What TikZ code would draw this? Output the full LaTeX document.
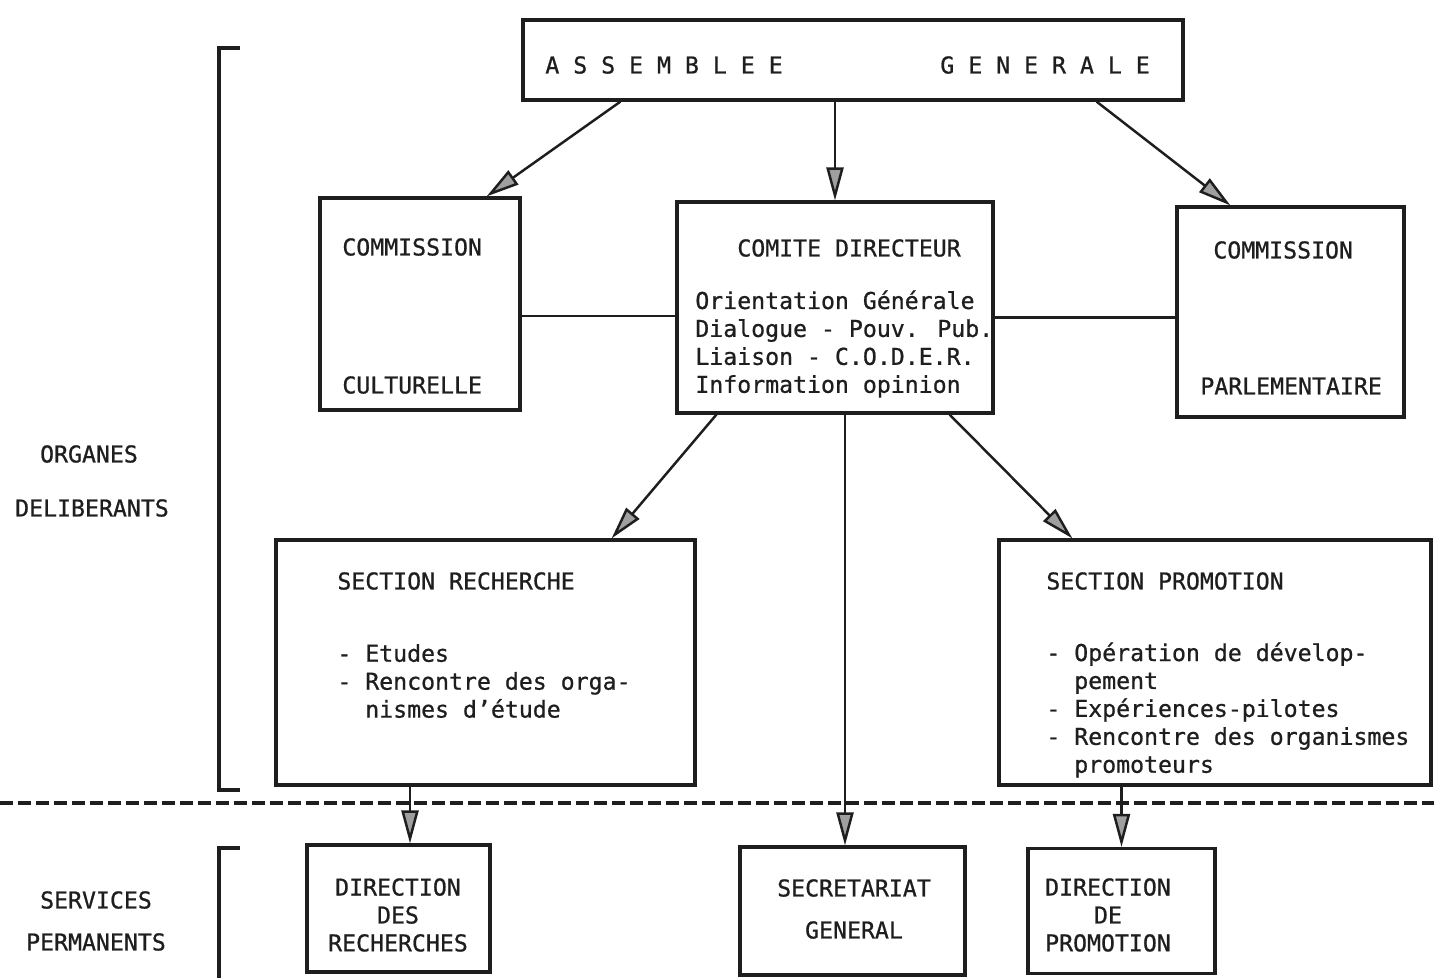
\documentclass[tikz,border=0pt]{standalone}
\usepackage{fontspec}
\setmainfont{DejaVu Sans Mono}[FakeBold=0.8]
\usepackage{tikz}
\usetikzlibrary{positioning}
\usetikzlibrary{arrows.meta}

\definecolor{ink}{HTML}{1E1E1E}
\tikzset{
	box/.style={draw=ink, line width=1.8pt, inner sep=0pt},
	lbl/.style={inner sep=0pt, text=ink, font=\fontsize{13.2}{15.9}\selectfont},
	arr/.style={draw=ink, line width=1.4pt, -{Triangle[length=0.66cm,width=0.34cm,fill=gray!75]}},
	link/.style={draw=ink, line width=1.4pt},
	brace/.style={draw=ink, line width=1.8pt},
}

\begin{document}
\begin{tikzpicture}[x=0.02cm, y=-0.02cm]
	\useasboundingbox (0,0) rectangle (1434,978);

	% boxes
	\node [box, minimum width=13.2cm, minimum height=1.6cm] (ag) at (853,60) {};
	\node [box, minimum width=4cm, minimum height=4.24cm] (cc) at (420,304) {};
	\node [box, minimum width=6.32cm, minimum height=4.22cm] (cd) at (835,307.5) {};
	\node [box, minimum width=4.54cm, minimum height=4.2cm] (cp) at (1290.5,312) {};
	\node [box, minimum width=8.38cm, minimum height=4.9cm] (sr) at (485.5,662.5) {};
	\node [box, minimum width=8.64cm, minimum height=4.9cm] (sp) at (1215,662.5) {};
	\node [box, minimum width=3.66cm, minimum height=2.54cm] (dr) at (398.5,908.5) {};
	\node [box, minimum width=4.5cm, minimum height=2.56cm] (sg) at (852.5,911) {};
	\node [box, minimum width=3.74cm, minimum height=2.5cm] (dp) at (1121.5,911) {};

	% texts
	\node [lbl, anchor=west] (agl) at (545,65) {A S S E M B L E E};
	\node [lbl, anchor=west] (agr) at (940,65) {G E N E R A L E};
	\node [lbl, anchor=west] (cctop) at (342,247) {COMMISSION};
	\node [lbl, anchor=west] (ccbot) at (342,385) {CULTURELLE};
	\node [lbl, anchor=west] (cdtop) at (737,248) {COMITE DIRECTEUR};
	\node [lbl, anchor=west, align=left] (cdlist) at (695,344)
		{Orientation Générale\\Dialogue - Pouv. Pub.\\Liaison - C.O.D.E.R.\\Information opinion};
	\node [lbl, anchor=west] (cptop) at (1213,250) {COMMISSION};
	\node [lbl, anchor=west] (cpbot) at (1200,386) {PARLEMENTAIRE};
	\node [lbl, anchor=west] (srtop) at (337,581) {SECTION RECHERCHE};
	\node [lbl, anchor=west, align=left] (srlist) at (337,681)
		{- Etudes\\- Rencontre des orga-\\\phantom{- }nismes d'étude};
	\node [lbl, anchor=west] (sptop) at (1046,581) {SECTION PROMOTION};
	\node [lbl, anchor=west, align=left] (splist) at (1046,710)
		{- Opération de dévelop-\\\phantom{- }pement\\- Expériences-pilotes\\- Rencontre des organismes\\\phantom{- }promoteurs};
	\node [lbl, align=center] (drtxt) at (398,915) {DIRECTION\\DES\\RECHERCHES};
	\node [lbl] (sgtop) at (854,888) {SECRETARIAT};
	\node [lbl] (sgbot) at (854,930) {GENERAL};
	\node [lbl, align=center] (dptxt) at (1108,915) {DIRECTION\\DE\\PROMOTION};
	\node [lbl] (orgtop) at (89,454) {ORGANES};
	\node [lbl] (orgbot) at (92,508) {DELIBERANTS};
	\node [lbl] (sertop) at (96,900) {SERVICES};
	\node [lbl] (serbot) at (96,942) {PERMANENTS};

	% connectors
	\coordinate (sgin) at ([xshift=-0.15cm]sg.north);
	\coordinate (drin) at ([xshift=0.23cm]dr.north);
	\draw [arr] ([xshift=1.98cm]ag.south west) -- ([xshift=-0.7cm]cc.north east);
	\draw [arr] (ag.south -| cd.north) -- (cd.north);
	\draw [arr] ([xshift=-1.76cm]ag.south east) -- ([xshift=1.1cm]cp.north west);
	\draw [link] ([yshift=-0.24cm]cc.east) -- ([yshift=-0.24cm]cc.east -| cd.west);
	\draw [link] ([yshift=-0.2cm]cd.east) -- ([yshift=-0.2cm]cd.east -| cp.west);
	\draw [arr] ([xshift=0.82cm]cd.south west) -- ([xshift=-1.7cm]sr.north east);
	\draw [arr] (cd.south -| sgin) -- (sgin);
	\draw [arr] ([xshift=-0.9cm]cd.south east) -- ([xshift=1.5cm]sp.north west);
	\draw [arr] (sr.south -| drin) -- (drin);
	\draw [arr] (sp.south -| dp.north) -- (dp.north);

	% divider and brackets
	\coordinate (divl) at (0,803);
	\coordinate (divr) at (1434,803);
	\draw [ink, line width=2pt, dash pattern=on 0.26cm off 0.1cm] (divl) -- (divr);
	\draw [brace] (240,48) -- (219,48) -- (219,790) -- (240,790);
	\draw [brace] (240,848) -- (219,848) -- (219,978);
\end{tikzpicture}
\end{document}
